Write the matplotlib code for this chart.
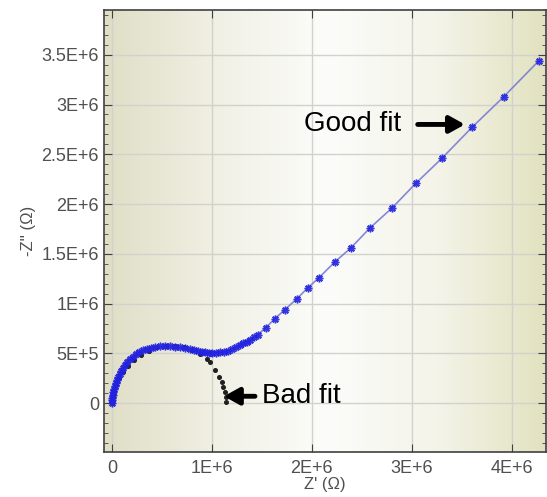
import matplotlib.pyplot as plt
import numpy as np
from matplotlib.colors import LinearSegmentedColormap

# datos (unidades de 1E+6 ohm)
good_x = [0.00, 0.00, 0.00, 0.01, 0.01, 0.02, 0.03, 0.04, 0.05, 0.06, 0.08, 0.09,
          0.11, 0.13, 0.15, 0.18, 0.21, 0.24, 0.27, 0.31, 0.35, 0.39, 0.43, 0.48,
          0.53, 0.58, 0.63, 0.68, 0.73, 0.78, 0.82, 0.86, 0.90, 0.93, 0.97, 1.00,
          1.04, 1.08, 1.12, 1.16, 1.20, 1.24, 1.28, 1.31, 1.35, 1.38, 1.42, 1.46,
          1.54, 1.63, 1.73, 1.85, 1.96, 2.07, 2.23, 2.39, 2.58, 2.80, 3.04,
          3.30, 3.60, 3.92, 4.27]
good_y = [0.00, 0.03, 0.05, 0.08, 0.11, 0.14, 0.17, 0.20, 0.23, 0.26, 0.29, 0.32,
          0.35, 0.38, 0.41, 0.44, 0.46, 0.49, 0.51, 0.53, 0.545, 0.555, 0.565, 0.57,
          0.57, 0.57, 0.565, 0.56, 0.55, 0.54, 0.53, 0.52, 0.515, 0.51, 0.505, 0.50,
          0.505, 0.51, 0.515, 0.52, 0.54, 0.56, 0.58, 0.60, 0.62, 0.64, 0.665, 0.69,
          0.76, 0.85, 0.94, 1.05, 1.16, 1.26, 1.42, 1.56, 1.76, 1.96, 2.21,
          2.46, 2.77, 3.08, 3.44]

bad_x = [0.00, 0.01, 0.02, 0.04, 0.07, 0.11, 0.16, 0.22, 0.29, 0.37, 0.45, 0.54,
         0.63, 0.72, 0.80, 0.88, 0.95, 0.98, 1.03, 1.07, 1.10, 1.11, 1.13, 1.14, 1.14]
bad_y = [0.00, 0.06, 0.12, 0.18, 0.25, 0.31, 0.37, 0.43, 0.48, 0.52, 0.56, 0.57,
         0.57, 0.56, 0.53, 0.49, 0.44, 0.41, 0.33, 0.26, 0.21, 0.16, 0.11, 0.06, 0.01]

xticks = [0, 1, 2, 3, 4]
xtick_labels = ['0', '1E+6', '2E+6', '3E+6', '4E+6']
yticks = [0, 0.5, 1, 1.5, 2, 2.5, 3, 3.5]
ytick_labels = ['0', '5E+5', '1E+6', '1.5E+6', '2E+6', '2.5E+6', '3E+6', '3.5E+6']

plt.rcParams['font.family'] = ['Liberation Sans', 'DejaVu Sans']

fig = plt.figure(figsize=(5.47, 4.97), dpi=100)
ax = fig.add_axes([0.190, 0.0905, 0.808, 0.8895])

# fondo degradado
fondo = LinearSegmentedColormap.from_list(
    'fondo', [(0.0, '#e0dec6'), (0.25, '#f0f0e4'), (0.5, '#fcfcfa'),
              (0.75, '#f4f4ea'), (1.0, '#e2e2c0')])
ax.imshow(np.linspace(0, 1, 256).reshape(1, -1), cmap=fondo, aspect='auto',
          extent=[0, 1, 0, 1], transform=ax.transAxes, zorder=0)

ax.grid(True, color='#d2d2cc', linewidth=1.0, zorder=1)

ax.plot(bad_x, bad_y, linestyle='none', marker='o', markersize=2.6,
        color='#202020', zorder=2)
ax.plot(good_x, good_y, color='#7a7ad6', linewidth=1.2,
        marker=(8, 2, 0), markersize=5.5, markeredgewidth=1.1,
        markeredgecolor='#2222e0', alpha=0.9, zorder=3)

ax.set_xlim(-0.08, 4.34)
ax.set_ylim(-0.49, 3.95)
ax.set_xticks(xticks)
ax.set_xticklabels(xtick_labels)
ax.set_yticks(yticks)
ax.set_yticklabels(ytick_labels)
ax.set_yticks(np.arange(-0.4, 3.95, 0.1), minor=True)

ax.tick_params(which='both', direction='in', top=True, right=True,
               labelsize=13, labelcolor='#505050', color='#404040')
ax.tick_params(which='major', length=6)
ax.tick_params(axis='x', which='major', pad=6)
ax.tick_params(which='minor', length=3)
ax.tick_params(axis='x', which='minor', length=0)

for s in ax.spines.values():
    s.set_color('#404040')
    s.set_linewidth(1.2)

ax.set_xlabel("Z' (Ω)", fontsize=12, color='#505050', labelpad=0)
ax.set_ylabel("-Z'' (Ω)", fontsize=12, color='#505050', labelpad=4)

flecha = dict(arrowstyle='-|>,head_length=0.45,head_width=0.25',
              color='black', lw=3.5, shrinkB=0)
ax.annotate('Good fit', xy=(3.53, 2.80), xytext=(1.92, 2.80),
            fontsize=20, color='black', va='center', ha='left',
            arrowprops=dict(flecha, shrinkA=10))
ax.annotate('Bad fit', xy=(1.12, 0.07), xytext=(1.50, 0.07),
            fontsize=20, color='black', va='center', ha='left',
            arrowprops=dict(flecha, shrinkA=3))

plt.savefig('out.png', dpi=100)
